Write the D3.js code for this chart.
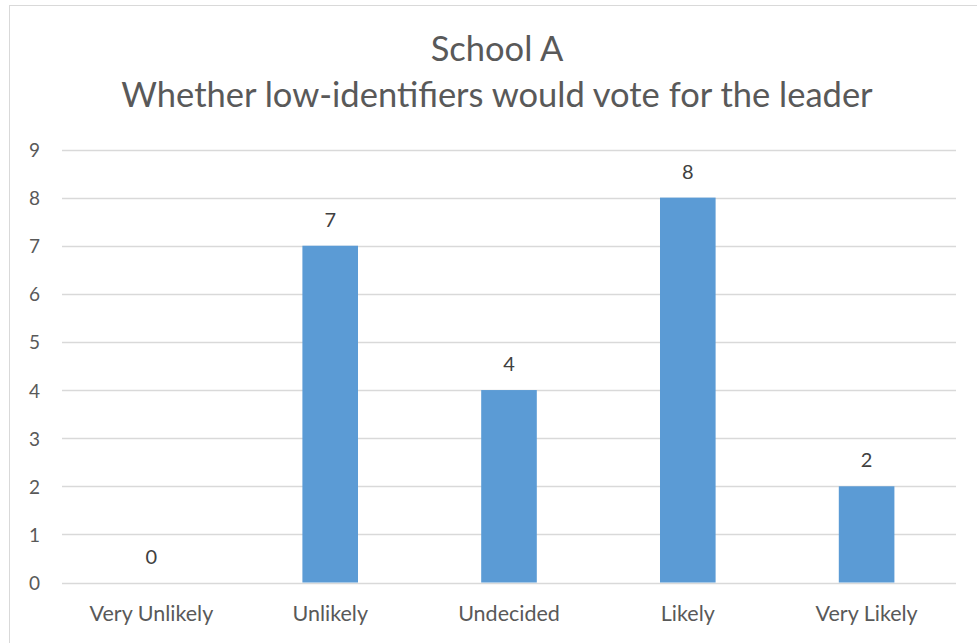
<!DOCTYPE html>
<html>
<head>
<meta charset="utf-8">
<script src="https://cdn.jsdelivr.net/npm/d3@7"></script>
<style>
  html, body { margin: 0; padding: 0; background: #fff; }
  svg { display: block; font-family: Lato, "Open Sans", sans-serif; }
</style>
</head>
<body>
<svg id="chart" width="977" height="643"></svg>
<script>
// Survey responses: how likely low-identifiers are to vote for the leader
const categories = ["Very Unlikely", "Unlikely", "Undecided", "Likely", "Very Likely"];
const counts = [0, 7, 4, 8, 2];
const yTicks = [0, 1, 2, 3, 4, 5, 6, 7, 8, 9];
const titleLines = ["School A", "Whether low-identifiers would vote for the leader"];

const svg = d3.select("#chart");
const FONT = "Lato, \"Open Sans\", sans-serif";

// outer chart frame
svg.append("rect")
  .attr("x", 9.5).attr("y", 5.5)
  .attr("width", 980).attr("height", 650)
  .attr("fill", "#fff").attr("stroke", "#d9d9d9").attr("stroke-width", 1);

const plot = { left: 62, right: 956, top: 149.5, bottom: 582.5 };

const x = d3.scaleBand().domain(categories).range([plot.left, plot.right]).padding(0);
const y = d3.scaleLinear().domain([0, 9]).range([plot.bottom, plot.top]);
const barW = x.step() * 0.311;

// title
const title = svg.append("g").attr("fill", "#595959").attr("text-anchor", "middle")
  .attr("font-family", FONT).attr("font-size", 34.5);
title.append("text").attr("x", 497).attr("y", 61).text(titleLines[0]);
title.append("text").attr("x", 497).attr("y", 107).text(titleLines[1]);

// horizontal gridlines
svg.append("g")
  .selectAll("line").data(yTicks).join("line")
  .attr("x1", plot.left).attr("x2", plot.right)
  .attr("y1", d => Math.round(y(d)) + 0.5).attr("y2", d => Math.round(y(d)) + 0.5)
  .attr("stroke", "#d9d9d9").attr("stroke-width", 1.3);

// y axis labels
const yAxis = d3.axisLeft(y).tickValues(yTicks).tickSize(0).tickPadding(0).tickFormat(d3.format("d"));
const yg = svg.append("g").attr("transform", `translate(${40},0)`).call(yAxis)
  .attr("font-family", FONT).attr("font-size", 19);
yg.select(".domain").remove();
yg.selectAll("text").attr("fill", "#595959").attr("dy", 7);

// x axis labels
const xAxis = d3.axisBottom(x).tickSize(0).tickPadding(0);
const xg = svg.append("g").attr("transform", `translate(0,${621})`).call(xAxis)
  .attr("font-family", FONT).attr("font-size", 21.5);
xg.select(".domain").remove();
xg.selectAll("text").attr("fill", "#595959").attr("dy", 0);

// bars
const data = categories.map((c, i) => ({ c, v: counts[i] }));
svg.append("g")
  .selectAll("rect").data(data).join("rect")
  .attr("x", d => x(d.c) + x.bandwidth() / 2 - barW / 2)
  .attr("width", barW)
  .attr("y", d => y(d.v))
  .attr("height", d => y(0) - y(d.v))
  .attr("fill", "#5b9bd5");

// value labels
svg.append("g")
  .attr("font-family", FONT).attr("font-size", 20).attr("fill", "#404040")
  .selectAll("text").data(data).join("text")
  .attr("x", d => x(d.c) + x.bandwidth() / 2)
  .attr("y", d => y(d.v) - 19)
  .attr("text-anchor", "middle")
  .text(d => d.v);
</script>
</body>
</html>
